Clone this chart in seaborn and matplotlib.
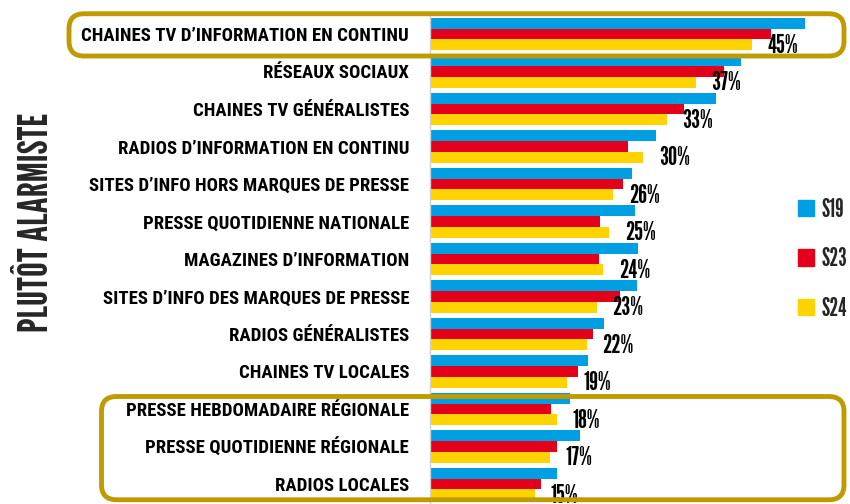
import numpy as np
import pandas as pd
import matplotlib
matplotlib.use("Agg")
import matplotlib.pyplot as plt
import seaborn as sns
from matplotlib.patches import FancyBboxPatch

# Données (en %)
categories = [
    "CHAINES TV D’INFORMATION EN CONTINU",
    "RÉSEAUX SOCIAUX",
    "CHAINES TV GÉNÉRALISTES",
    "RADIOS D’INFORMATION EN CONTINU",
    "SITES D’INFO HORS MARQUES DE PRESSE",
    "PRESSE QUOTIDIENNE NATIONALE",
    "MAGAZINES D’INFORMATION",
    "SITES D’INFO DES MARQUES DE PRESSE",
    "RADIOS GÉNÉRALISTES",
    "CHAINES TV LOCALES",
    "PRESSE HEBDOMADAIRE RÉGIONALE",
    "PRESSE QUOTIDIENNE RÉGIONALE",
    "RADIOS LOCALES",
]
s19 = [52.4, 43.4, 40.0, 31.6, 28.2, 28.7, 29.0, 28.9, 24.3, 22.0, 19.6, 20.9, 17.8]
s23 = [47.6, 41.1, 35.5, 27.6, 26.9, 23.7, 23.6, 26.6, 22.8, 20.7, 16.9, 17.8, 15.5]
s24 = [45.0, 37.1, 33.1, 29.8, 25.6, 25.0, 24.2, 23.3, 21.9, 19.2, 17.7, 16.7, 14.6]
series = ["S19", "S23", "S24"]
colors = ["#009FE3", "#E2001A", "#FFD300"]
gold = "#BF9B00"

df = pd.DataFrame({
    "media": categories * 3,
    "vague": [s for s in series for _ in categories],
    "pct": s19 + s23 + s24,
})

sns.set_style("white")
plt.rcParams["font.family"] = ["Roboto Condensed", "DejaVu Sans"]
tall = ["League Gothic", "Oswald", "DejaVu Sans"]

fig = plt.figure(figsize=(8.5, 5.04), dpi=100)
ax = fig.add_axes([430 / 850, 1.25 / 504, 411 / 850, 487.5 / 504])

sns.barplot(data=df, x="pct", y="media", hue="vague", order=categories,
            hue_order=series, palette=colors, width=0.86, orient="h",
            saturation=1, linewidth=0, ax=ax)

ax.set_xlim(0, 411 / 7.16)
ax.set_ylim(len(categories) - 0.5, -0.5)
ax.set_xlabel("")
ax.set_ylabel("")
ax.set_xticks([])
for s in ["top", "right", "bottom"]:
    ax.spines[s].set_visible(False)
ax.spines["left"].set_color("#d0d0d0")
ax.spines["left"].set_linewidth(1)
ax.set_yticks(np.arange(-0.5, len(categories), 1), minor=True)
ax.tick_params(axis="y", which="major", length=0, pad=15, labelsize=13.5,
               labelcolor="black")
ax.tick_params(axis="y", which="minor", length=5, color="#d0d0d0", width=1)
for lab in ax.get_yticklabels():
    lab.set_fontweight("bold")

# étiquettes S24
for i, v in enumerate(s24):
    ax.text(v + 2.2, i + 0.31, f"{v:.0f}%", ha="left", va="center",
            fontsize=18.5, family=tall, color="black", clip_on=False)

# légende
ax.legend_.remove()
handles = [plt.Rectangle((0, 0), 1, 1, color=c) for c in colors]
fig.legend(handles, series, loc="center left", bbox_to_anchor=(0.939, 0.486),
           frameon=False, prop={"family": tall, "size": 17.5},
           handlelength=0.65, handleheight=0.65, handletextpad=0.3,
           labelspacing=1.05, borderpad=0, borderaxespad=0)

fig.text(0.043, 0.56, "PLUTÔT ALARMISTE", rotation=90, ha="center", va="center",
         fontsize=30, family=tall)

# cadres dorés
to_fig = lambda y: fig.transFigure.inverted().transform(ax.transData.transform((0, y)))[1]
for x0, ytop, ybot in [(69, -0.54, 0.587), (101.5, 9.667, 12.42)]:
    y0 = to_fig(ybot)
    y1 = to_fig(ytop)
    box = FancyBboxPatch((x0 / 850, y0), (844 - x0) / 850, y1 - y0,
                         boxstyle=f"round,pad=0,rounding_size={15 / 850}",
                         mutation_aspect=850 / 504, transform=fig.transFigure,
                         fill=False, edgecolor=gold, linewidth=3.5, clip_on=False)
    fig.patches.append(box)

fig.savefig("out.png", dpi=100)
